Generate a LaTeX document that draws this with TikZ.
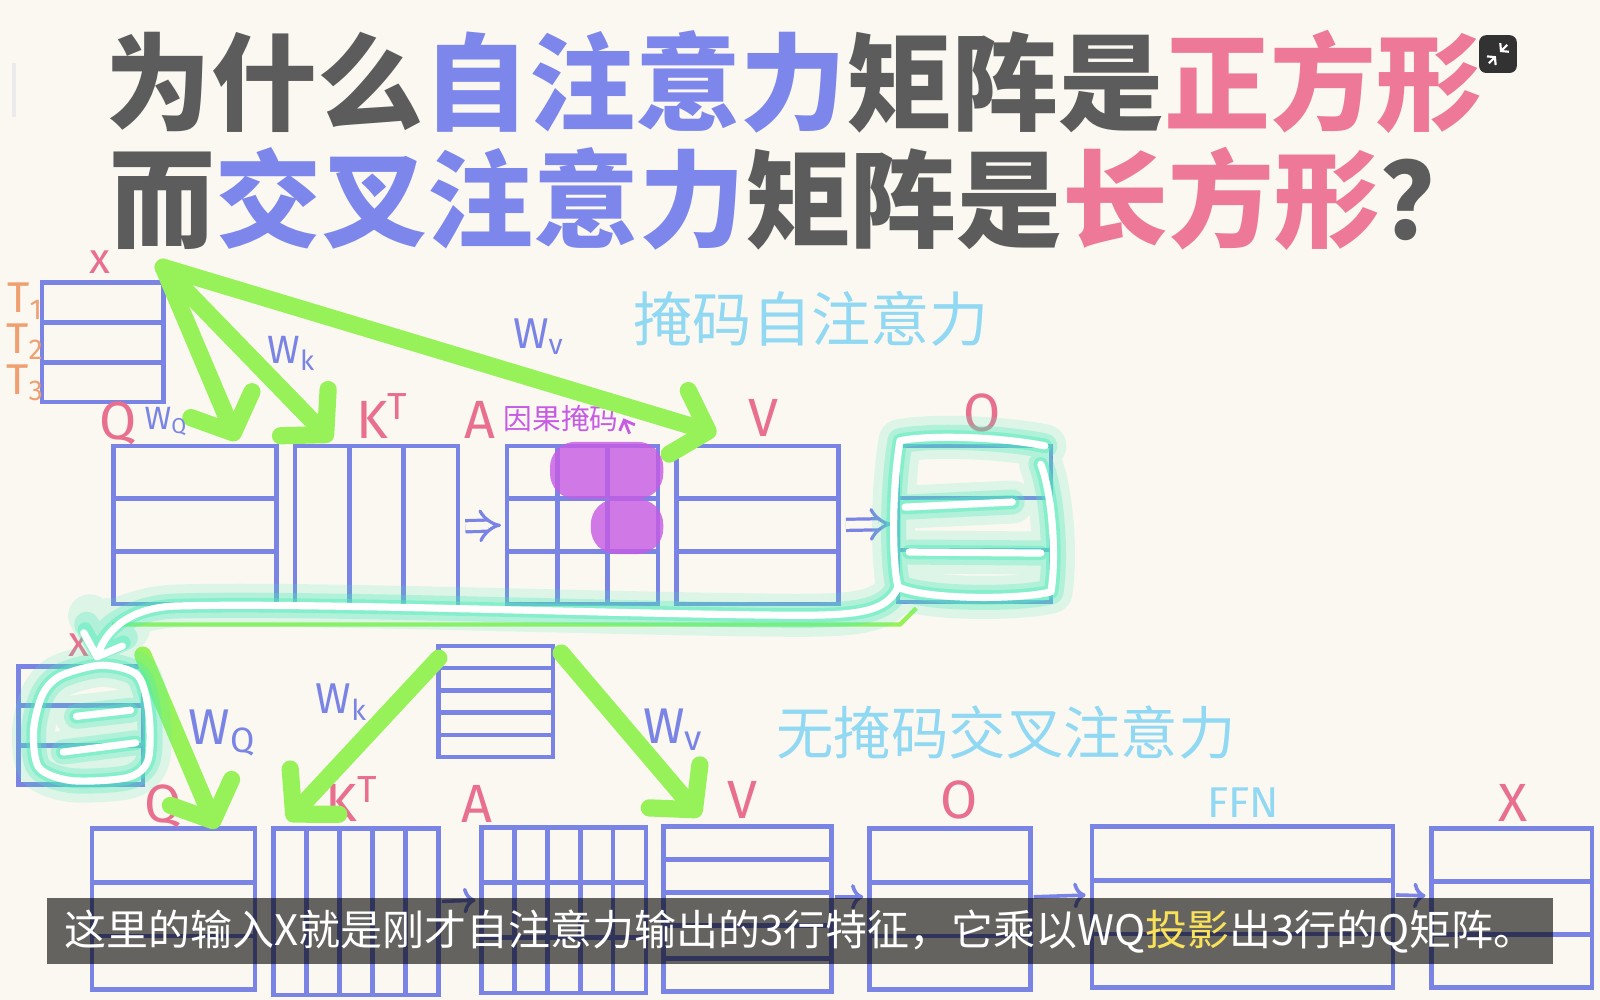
\documentclass[tikz,border=0pt]{standalone}
\usepackage{fontspec}
\usetikzlibrary{positioning,calc,arrows.meta}
\newfontfamily\cjk{Noto Sans CJK SC}
\newfontfamily\hand{Fira Sans}

\definecolor{paper}{RGB}{251,248,242}
\definecolor{gridblue}{RGB}{122,132,228}
\definecolor{inkgray}{RGB}{92,92,92}
\definecolor{titleblue}{RGB}{125,135,235}
\definecolor{titlepink}{RGB}{238,120,152}
\definecolor{labelpink}{RGB}{232,112,142}
\definecolor{skyblue}{RGB}{145,216,242}
\definecolor{tcolor}{RGB}{240,160,112}
\definecolor{arrowgreen}{RGB}{150,242,88}
\definecolor{maskpurple}{RGB}{198,92,228}
\definecolor{glowcyan}{RGB}{80,235,185}
\definecolor{subyellow}{RGB}{250,225,90}
\definecolor{btngray}{RGB}{50,50,50}

% hand-drawn outlines of the output O and of the new input X
\newcommand\oloop{(1024,437) .. controls (980,428) and (910,426) .. (882,432)
    .. controls (874,480) and (874,550) .. (880,575)
    .. controls (905,588) and (1000,588) .. (1030,580)
    .. controls (1036,540) and (1030,480) .. (1020,455)
  (887,497) -- (992,492) (891,541) -- (1020,542)}
\newcommand\xloop{plot[smooth cycle] coordinates {(60,662) (100,652) (135,662) (146,700) (145,745)
    (125,762) (70,765) (38,752) (33,715) (42,680)}
  (75,702) -- (128,696) (62,737) -- (133,728)}
\newcommand\otail{(880,576) .. controls (868,600) and (840,603) .. (780,603)
    .. controls (600,602) and (300,590) .. (170,594)
    .. controls (130,596) and (105,615) .. (94,647)}

\tikzset{
  mat/.style={draw=gridblue, line width=1.3pt, inner sep=0pt, outer sep=0pt, anchor=north west},
  gridline/.style={draw=gridblue, line width=1.3pt},
  cells/.style 2 args={path picture={
    \ifnum#1>1
      \foreach \k in {2,...,#1}
        \draw[gridline] ($(path picture bounding box.north west)!{(\k-1)/#1}!(path picture bounding box.south west)$)
          -- ($(path picture bounding box.north east)!{(\k-1)/#1}!(path picture bounding box.south east)$);
    \fi
    \ifnum#2>1
      \foreach \k in {2,...,#2}
        \draw[gridline] ($(path picture bounding box.north west)!{(\k-1)/#2}!(path picture bounding box.north east)$)
          -- ($(path picture bounding box.south west)!{(\k-1)/#2}!(path picture bounding box.south east)$);
    \fi
  }},
  title/.style={font=\cjk\bfseries\fontsize{29.5}{30}\selectfont, inner sep=0pt},
  lbl/.style={font=\hand\fontsize{15}{15}\selectfont, text=labelpink, inner sep=0pt},
  wlbl/.style={text=gridblue, inner sep=0pt},
  sky/.style={font=\cjk\fontsize{16.5}{17}\selectfont, text=skyblue, inner sep=0pt},
  proj/.style={draw=arrowgreen, line width=4.8pt, line cap=round,
    -{Straight Barb[length=3mm, width=6.5mm, round]}},
  dbl/.style={draw=gridblue, line width=0.9pt, double=paper, double distance=2.2pt,
    -{Implies}, shorten <=0.07cm, shorten >=0.06cm},
  sm/.style={draw=gridblue, line width=1pt, -{To[length=1.2mm]}, shorten <=0.03cm, shorten >=0.06cm},
  pen/.style={line cap=round, line join=round},
  tailtip/.style={-{Straight Barb[length=1.8mm, width=4mm, round]}},
  subbar/.style={fill=black, fill opacity=0.6, text opacity=1, text=white,
    font=\cjk\fontsize{11.7}{12}\selectfont, minimum width=14.76cm, minimum height=0.65cm, inner sep=0pt},
}

\begin{document}
\begin{tikzpicture}[x=0.01cm, y=-0.01cm]
  % Background
  \fill[paper] (0,0) rectangle (1568,980);
  \useasboundingbox (0,0) rectangle (1568,980);
  \draw[black!8, line width=1pt] (14,62) -- (14,115);

  % Title
  \node[title] (t1) at (778,80) {\color{inkgray}为什么\color{titleblue}自注意力\color{inkgray}矩阵是\color{titlepink}正方形};
  \node[title] (t2) at (782,195) {\color{inkgray}而\color{titleblue}交叉注意力\color{inkgray}矩阵是\color{titlepink}长方形\color{inkgray}？};

  % Player button
  \node[fill=btngray, rounded corners=0.07cm, minimum size=0.37cm, inner sep=0pt] (btn) at (1468,53) {};
  \draw[white, line width=0.6pt, -{Straight Barb[length=0.5mm, width=1.2mm]}]
    ([xshift=0.09cm,yshift=0.09cm]btn.center) -- ([xshift=0.02cm,yshift=0.02cm]btn.center);
  \draw[white, line width=0.6pt, -{Straight Barb[length=0.5mm, width=1.2mm]}]
    ([xshift=-0.09cm,yshift=-0.09cm]btn.center) -- ([xshift=-0.02cm,yshift=-0.02cm]btn.center);

  % Matrices: name / left / top / width / height / rows / columns
  \foreach \n/\x/\y/\w/\h/\r/\c in {
      xa/41/277/119/117/3/1, qa/111/437/160/155/3/1, ka/289/437/160/158/1/3,
      aa/497/437/148/155/3/3, va/663/437/159/155/3/1, oa/880/437/150/153/3/1,
      xb/18/653/122/116/3/1, mem/430/633/112/109/5/1,
      qb/90/812/160/158/3/1, kb/268/812/162/163/1/5, ab/472/811/161/162/3/5,
      vb/650/810/165/162/5/1, ob/852/812/158/158/3/1, ffn/1070/810/295/158/3/1,
      xc/1403/812/157/156/3/1} {
    \node[mat, minimum width=\w*0.01cm, minimum height=\h*0.01cm, cells={\r}{\c}] (\n) at (\x,\y) {};
  }

  % Causal mask
  \fill[maskpurple, opacity=0.82, rounded corners=0.25cm] (539,433) rectangle (650,489);
  \fill[maskpurple, opacity=0.82, rounded corners=0.25cm] (579,489) rectangle (650,543);
  \node[font=\cjk\fontsize{8}{8}\selectfont, text=maskpurple, inner sep=0pt] (mask) at (550,410) {因果掩码};
  \draw[maskpurple, line width=0.8pt, -{Straight Barb[length=0.8mm, width=1.6mm]}] (617,425) -- (611,410);

  % Matrix names
  \foreach \n/\x/\y/\t in {lq1/116/415/Q, lk1/375/408/{K\textsuperscript{T}}, la1/470/412/A,
      lv1/748/410/V, lo1/962/405/O, lq2/160/790/Q, lk2/345/783/{K\textsuperscript{T}},
      la2/467/788/A, lv2/728/784/V, lo2/940/784/O, lx3/1483/787/X} {
    \node[lbl] (\n) at (\x,\y) {\t};
  }
  \node[lbl, font=\hand\fontsize{12}{12}\selectfont] (lx1) at (98,257) {x};
  \node[lbl, font=\hand\fontsize{12}{12}\selectfont] (lx2) at (77,632) {x};
  \node[font=\hand\fontsize{12}{12}\selectfont, text=skyblue, inner sep=0pt] (lffn) at (1218,787) {FFN};
  \foreach \i/\y in {1/295, 2/335, 3/375} {
    \node[font=\hand\fontsize{12}{12}\selectfont, text=tcolor, inner sep=0pt] (t\i) at (25,\y) {T\textsubscript{\i}};
  }

  % Green projections
  \coordinate (xs) at ([yshift=0.15cm]xa.north east);
  \draw[proj] (xs) -- ([xshift=-0.39cm,yshift=0.05cm]qa.north east);
  \draw[proj] (xs) -- ([xshift=0.36cm,yshift=0.05cm]ka.north west);
  \draw[proj] (xs) -- ([xshift=0.39cm,yshift=0.12cm]va.north west);
  \draw[proj] ([yshift=0.11cm]xb.north east) -- ([xshift=-0.38cm]qb.north east);
  \draw[proj] ([yshift=-0.12cm]mem.north west) -- ([xshift=0.14cm,yshift=0.08cm]kb.north west);
  \draw[proj] ([xshift=0.08cm,yshift=-0.07cm]mem.north east) -- ([xshift=0.36cm,yshift=0.1cm]vb.north west);

  % Weight names
  \foreach \n/\x/\y/\s/\t in {wq1/163/413/9/Q, wk1/286/346/11/k, wv1/528/330/12/v,
      wq2/218/718/14/Q, wk2/335/688/12/k, wv2/660/715/14/v} {
    \node[wlbl, font=\hand\fontsize{\s}{\s}\selectfont] (\n) at (\x,\y) {W\textsubscript{\t}};
  }

  % Products
  \draw[dbl] (ka.east) -- (aa.west);
  \draw[dbl] (va.east) -- (oa.west);
  \draw[sm] ([yshift=0.1cm]kb.east) -- ([yshift=0.1cm]ab.west);
  \draw[sm] ([yshift=0.12cm]vb.east) -- ([yshift=0.12cm]ob.west);
  \draw[sm] ([yshift=0.12cm]ob.east) -- ([yshift=0.12cm]ffn.west);
  \draw[sm] ([yshift=0.12cm]ffn.east) -- ([yshift=0.12cm]xc.west);

  % Output O carried down as the new X
  \draw[arrowgreen, line width=1.2pt] (110,612) -- (882,612) -- (898,596);
  \foreach \lw/\op in {12/0.18, 7/0.3, 4/0.45} {
    \begin{scope}[transparency group, opacity=\op]
      \draw[pen, glowcyan, line width=\lw pt] \oloop \xloop;
      \draw[pen, glowcyan, line width=\lw pt, tailtip] \otail;
    \end{scope}
  }
  \draw[pen, white, line width=2pt] \oloop \xloop;
  \draw[pen, white, line width=2pt, tailtip] \otail;

  % Section names
  \node[sky] (selfname) at (795,312) {掩码自注意力};
  \node[sky, font=\cjk\fontsize{16}{16}\selectfont] (crossname) at (986,718) {无掩码交叉注意力};

  % Subtitle
  \node[subbar] (sub) at (784,912.5) {这里的输入X就是刚才自注意力输出的3行特征，它乘以WQ{\color{subyellow}投影}出3行的Q矩阵。};
\end{tikzpicture}
\end{document}
